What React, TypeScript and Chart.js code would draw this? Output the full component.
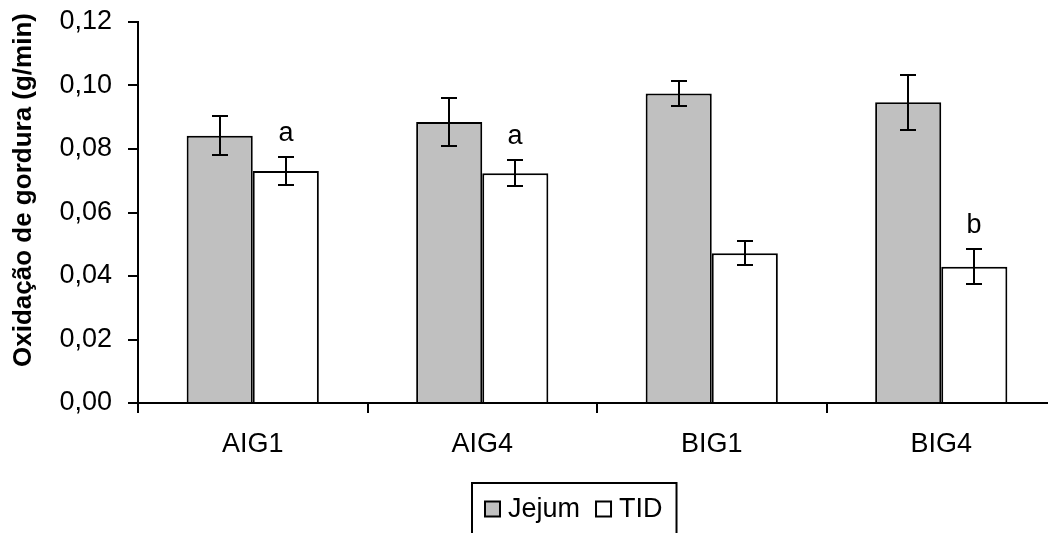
import React, { useEffect, useRef } from "react";
import { Chart, registerables } from "chart.js";

Chart.register(...registerables);

const categories = ["AIG1", "AIG4", "BIG1", "BIG4"];
const jejumValues = [0.0842, 0.0885, 0.0975, 0.0947];
const jejumErrors = [0.0061, 0.0075, 0.0040, 0.0086];
const tidValues = [0.0731, 0.0724, 0.0472, 0.0429];
const tidErrors = [0.0044, 0.0040, 0.0037, 0.0055];
const tidLetters = ["a", "a", "", "b"];
const yTicks = [0, 0.02, 0.04, 0.06, 0.08, 0.1, 0.12];
const yTitle = "Oxidação de gordura (g/min)";

const FONT = "'Liberation Sans', Arial, Helvetica, sans-serif";
const FS = 27;
const FS_TITLE = 26;

const errorBarPlugin = {
  id: "errorBars",
  afterDatasetsDraw(chart: any) {
    const ctx = chart.ctx;
    const y = chart.scales.y;
    ctx.save();
    ctx.strokeStyle = "#000";
    ctx.lineWidth = 2;
    chart.data.datasets.forEach((ds: any, di: number) => {
      const meta = chart.getDatasetMeta(di);
      meta.data.forEach((bar: any, i: number) => {
        const v = ds.data[i];
        const e = ds.errors[i];
        const yt = Math.round(y.getPixelForValue(v + e));
        const yb = Math.round(y.getPixelForValue(v - e));
        const x = Math.round(bar.x);
        ctx.beginPath();
        ctx.moveTo(x, yt);
        ctx.lineTo(x, yb);
        ctx.moveTo(x - 8, yt);
        ctx.lineTo(x + 8, yt);
        ctx.moveTo(x - 8, yb);
        ctx.lineTo(x + 8, yb);
        ctx.stroke();
        const letter = ds.letters ? ds.letters[i] : "";
        if (letter) {
          ctx.fillStyle = "#000";
          ctx.font = `${FS}px ${FONT}`;
          ctx.textAlign = "center";
          ctx.textBaseline = "alphabetic";
          ctx.fillText(letter, x, yt - 16);
        }
      });
    });
    ctx.restore();
  },
};

const decorPlugin = {
  id: "decor",
  afterDraw(chart: any) {
    const ctx = chart.ctx;
    ctx.save();
    ctx.fillStyle = "#000";
    ctx.font = `bold ${FS_TITLE}px ${FONT}`;
    ctx.textAlign = "center";
    ctx.textBaseline = "middle";
    ctx.translate(24, 190);
    ctx.rotate(-Math.PI / 2);
    ctx.fillText(yTitle, 0, 0);
    ctx.restore();

    ctx.save();
    ctx.font = `${FS}px ${FONT}`;
    const ds = chart.data.datasets;
    const sw = 15;
    const gapSwText = 8;
    const gapItems = 16;
    const widths = ds.map((d: any) => ctx.measureText(d.label).width);
    let content = 0;
    widths.forEach((w: number, i: number) => {
      content += sw + gapSwText + w + (i < widths.length - 1 ? gapItems : 0);
    });
    const padL = 13;
    const padR = 14;
    const boxW = padL + content + padR;
    const cx = 574;
    const left = Math.round(cx - boxW / 2);
    const top = 483;
    ctx.strokeStyle = "#000";
    ctx.lineWidth = 2;
    ctx.strokeRect(left, top, boxW, 70);
    let x = left + padL;
    const midY = 509;
    ds.forEach((d: any, i: number) => {
      ctx.fillStyle = d.backgroundColor;
      ctx.fillRect(x, midY - 7.5, sw, sw);
      ctx.lineWidth = 2;
      ctx.strokeStyle = "#000";
      ctx.strokeRect(x, midY - 7.5, sw, sw);
      x += sw + gapSwText;
      ctx.fillStyle = "#000";
      ctx.textAlign = "left";
      ctx.textBaseline = "middle";
      ctx.fillText(d.label, x, midY + 1);
      x += widths[i] + gapItems;
    });
    ctx.restore();
  },
};

export default function App() {
  const ref = useRef<HTMLCanvasElement | null>(null);

  useEffect(() => {
    if (!ref.current) return;
    const chart = new Chart(ref.current, {
      type: "bar",
      data: {
        labels: categories,
        datasets: [
          {
            label: "Jejum",
            data: jejumValues,
            errors: jejumErrors,
            backgroundColor: "#c0c0c0",
            borderColor: "#000",
            borderWidth: 2,
            categoryPercentage: 0.576,
            barPercentage: 1,
          } as any,
          {
            label: "TID",
            data: tidValues,
            errors: tidErrors,
            letters: tidLetters,
            backgroundColor: "#ffffff",
            borderColor: "#000",
            borderWidth: 2,
            categoryPercentage: 0.576,
            barPercentage: 1,
          } as any,
        ],
      },
      options: {
        responsive: false,
        animation: false,
        devicePixelRatio: 1,
        layout: { padding: { top: 22, left: 0, right: 0, bottom: 0 } },
        plugins: {
          legend: { display: false },
          tooltip: { enabled: false },
        },
        scales: {
          x: {
            grid: {
              display: true,
              drawOnChartArea: false,
              drawTicks: true,
              tickLength: 10,
              color: "#000",
              lineWidth: 2,
              offset: true,
            },
            border: { display: true, color: "#000", width: 2 },
            ticks: {
              color: "#000",
              font: { family: FONT, size: FS },
              padding: 15,
              maxRotation: 0,
            },
            afterFit(scale: any) {
              scale.height = 533 - 403;
              scale.paddingLeft = 0;
              scale.paddingRight = 0;
            },
          },
          y: {
            min: 0,
            max: 0.12,
            afterBuildTicks(scale: any) {
              scale.ticks = yTicks.map((v) => ({ value: v }));
            },
            grid: {
              display: true,
              drawOnChartArea: false,
              drawTicks: true,
              tickLength: 10,
              color: "#000",
              lineWidth: 2,
            },
            border: { display: true, color: "#000", width: 2 },
            ticks: {
              color: "#000",
              font: { family: FONT, size: FS },
              padding: 16,
              callback: (v: any) => Number(v).toFixed(2).replace(".", ","),
            },
            afterFit(scale: any) {
              scale.width = 138;
              scale.paddingTop = 0;
              scale.paddingBottom = 0;
            },
          },
        },
      } as any,
      plugins: [errorBarPlugin, decorPlugin],
    });
    return () => chart.destroy();
  }, []);

  return (
    <div
      style={{
        position: "fixed",
        left: 0,
        top: 0,
        width: 1048,
        height: 533,
        overflow: "hidden",
        background: "#fff",
      }}
    >
      <canvas ref={ref} width={1056} height={533} style={{ display: "block" }} />
    </div>
  );
}
